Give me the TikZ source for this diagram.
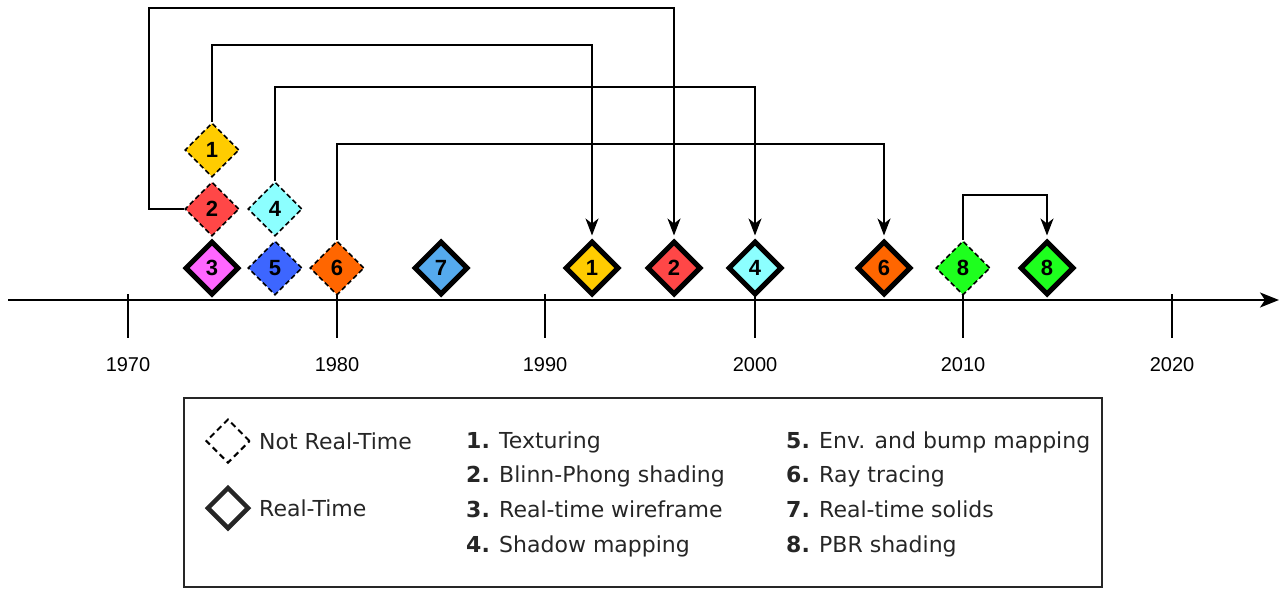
\documentclass[tikz,border=0pt]{standalone}
\usepackage{fontspec}
\setmainfont{DejaVu Sans}
\newfontfamily\arialfont{Liberation Sans}
\usetikzlibrary{shapes.geometric,arrows.meta}

\definecolor{texcol}{HTML}{FFCC00}
\definecolor{blinncol}{HTML}{FF4747}
\definecolor{wirecol}{HTML}{FF66FF}
\definecolor{shadowcol}{HTML}{8CFFFF}
\definecolor{bumpcol}{HTML}{3D66FF}
\definecolor{raycol}{HTML}{FF6600}
\definecolor{solidcol}{HTML}{55AAEE}
\definecolor{pbrcol}{HTML}{1EFF1E}
\definecolor{legtext}{HTML}{262626}

\tikzset{
	gem/.style={diamond, aspect=1, minimum width=54pt, minimum height=54pt, inner sep=0pt,
		font=\arialfont\bfseries\fontsize{22}{22}\selectfont},
	nrt/.style={gem, draw=black, line width=1.6pt, dash pattern=on 5pt off 3pt},
	rt/.style={gem, draw=black, line width=5pt},
	link/.style={line width=1.6pt, shorten >=3pt, -{Stealth[length=17pt,width=13pt,inset=5pt]}},
	year/.style={font=\arialfont\fontsize{20}{20}\selectfont},
	keytext/.style={anchor=base west, inner sep=0pt, text=legtext, font=\fontsize{22}{22}\selectfont},
}

\begin{document}
\begin{tikzpicture}[x=1pt,y=-1pt]
	\useasboundingbox (0,0) rectangle (1280,589);
	% time axis
	\coordinate (A0) at (8,300);
	\coordinate (A1) at (1279,300);
	\draw[line width=2.2pt, -{Stealth[length=19pt,width=15pt,inset=5pt]}] (A0) -- (A1);
	\foreach \yr/\x in {1970/128,1980/337,1990/545,2000/755,2010/963,2020/1172} {
		\draw[line width=1.3pt] (\x,294) -- (\x,338);
		\node[year] (Y\yr) at (\x,365) {\yr};
	}
	% first appearance
	\node[nrt, fill=texcol] (N1) at (212,150) {1};
	\node[nrt, fill=blinncol] (N2) at (212,209) {2};
	\node[rt, fill=wirecol] (R3) at (212,268) {3};
	\node[nrt, fill=shadowcol] (N4) at (275,209) {4};
	\node[nrt, fill=bumpcol] (N5) at (275,268) {5};
	\node[nrt, fill=raycol] (N6) at (337,268) {6};
	\node[rt, fill=solidcol] (R7) at (441,268) {7};
	% real-time versions
	\node[rt, fill=texcol] (R1) at (592,268) {1};
	\node[rt, fill=blinncol] (R2) at (674,268) {2};
	\node[rt, fill=shadowcol] (R4) at (755,268) {4};
	\node[rt, fill=raycol] (R6) at (884,268) {6};
	\node[nrt, fill=pbrcol] (N8) at (963,268) {8};
	\node[rt, fill=pbrcol] (R8) at (1047,268) {8};
	% links
	\draw[link] (N2.west) -| (149,8) -| (R2.north);
	\draw[link] (N1.north) -- ++(0,-77) -| (R1.north);
	\draw[link] (N4.north) -- ++(0,-94) -| (R4.north);
	\draw[link] (N6.north) -- ++(0,-96) -| (R6.north);
	\draw[link] (N8.north) -- ++(0,-45) -| (R8.north);
	% legend
	\node[draw=legtext, line width=2.4pt, minimum width=918pt, minimum height=189pt] (legend) at (643,492.5) {};
	\node[diamond, aspect=1, minimum width=44pt, minimum height=44pt, inner sep=0pt, draw=black, line width=2pt, dash pattern=on 6pt off 4pt] (KN) at (228,441) {};
	\node[diamond, aspect=1, minimum width=42pt, minimum height=42pt, inner sep=0pt, draw=legtext, line width=4.5pt] (KR) at (228,508) {};
	\node[keytext] (KNt) at (259,449.5) {Not Real-Time};
	\node[keytext] (KRt) at (259,516) {Real-Time};
	\node[keytext] (L1) at (466,448.5) {\textbf{1.} Texturing};
	\node[keytext] (L2) at (466,482.5) {\textbf{2.} Blinn-Phong shading};
	\node[keytext] (L3) at (466,517.5) {\textbf{3.} Real-time wireframe};
	\node[keytext] (L4) at (466,552.5) {\textbf{4.} Shadow mapping};
	\node[keytext] (L5) at (786,448.5) {\textbf{5.} Env. and bump mapping};
	\node[keytext] (L6) at (786,482.5) {\textbf{6.} Ray tracing};
	\node[keytext] (L7) at (786,517.5) {\textbf{7.} Real-time solids};
	\node[keytext] (L8) at (786,552.5) {\textbf{8.} PBR shading};
\end{tikzpicture}
\end{document}
